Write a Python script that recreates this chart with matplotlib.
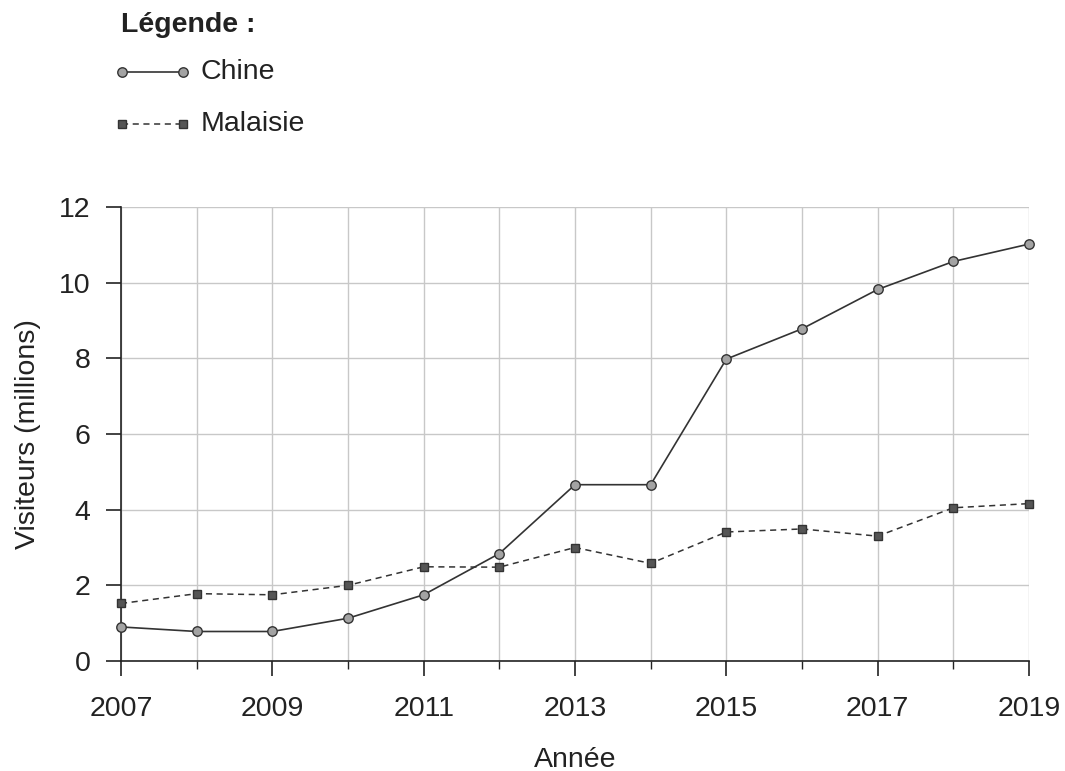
import matplotlib
matplotlib.use("Agg")
import matplotlib.pyplot as plt
from matplotlib.lines import Line2D
from matplotlib.ticker import FixedLocator, MultipleLocator

plt.rcParams['font.family'] = ['Liberation Sans', 'DejaVu Sans']

years = list(range(2007, 2020))
chine = [0.9, 0.78, 0.78, 1.13, 1.75, 2.84, 4.66, 4.66, 7.98, 8.78, 9.82, 10.56, 11.02]
malaisie = [1.52, 1.78, 1.75, 2.0, 2.49, 2.48, 3.0, 2.58, 3.41, 3.49, 3.3, 4.05, 4.16]
series = [('Chine', chine), ('Malaisie', malaisie)]

W, H = 1065, 771
fig = plt.figure(figsize=(W / 100, H / 100), dpi=100)
ax = fig.add_axes([121 / W, 1 - 661 / H, 908 / W, 454 / H])

styles = {
    'Chine': dict(color='#333333', lw=1.2, ls='-', marker='o', ms=6.8,
                  mfc='#a3a3a3', mec='#333333', mew=1.0),
    'Malaisie': dict(color='#333333', lw=1.1, ls=(0, (4, 3)), marker='s', ms=6.0,
                     mfc='#555555', mec='#333333', mew=1.0),
}
for name, vals in series:
    ax.plot(years, vals, label=name, clip_on=False, zorder=3, **styles[name])

ax.set_xlim(2007, 2019)
ax.set_ylim(0, 12)
ax.xaxis.set_major_locator(FixedLocator(years[::2]))
ax.xaxis.set_minor_locator(FixedLocator(years[1::2]))
ax.yaxis.set_major_locator(MultipleLocator(2))
ax.grid(True, which='both', color='#c8c8c8', lw=1.0)
ax.set_axisbelow(True)
for s in ['top', 'right']:
    ax.spines[s].set_visible(False)
for s in ['left', 'bottom']:
    ax.spines[s].set_color('#222222')
    ax.spines[s].set_linewidth(1.2)
ax.tick_params(which='major', length=11, width=1.2, color='#222222',
               labelsize=20.5, labelcolor='#222222')
ax.tick_params(axis='y', pad=11)
ax.tick_params(axis='x', pad=14)
ax.tick_params(axis='x', which='minor', length=6, width=1.0, color='#222222')
ax.set_xlabel('Année', fontsize=20.5, labelpad=18, color='#222222')
ax.set_ylabel('Visiteurs (millions)', fontsize=20.5, labelpad=13, color='#222222')

# legend block, top-left
fig.text(121 / W, 1 - 25 / H, 'Légende :', fontsize=20.5, fontweight='bold',
         color='#222222', va='center', ha='left')
rows = [72, 124]
for (name, vals), yy in zip(series, rows):
    st = dict(styles[name])
    fig.add_artist(Line2D([122 / W, 183 / W], [1 - yy / H, 1 - yy / H],
                          transform=fig.transFigure, **st))
    fig.text(201 / W, 1 - yy / H, name, fontsize=20.5, color='#222222',
             va='center', ha='left')

fig.savefig('out.png', dpi=100)
